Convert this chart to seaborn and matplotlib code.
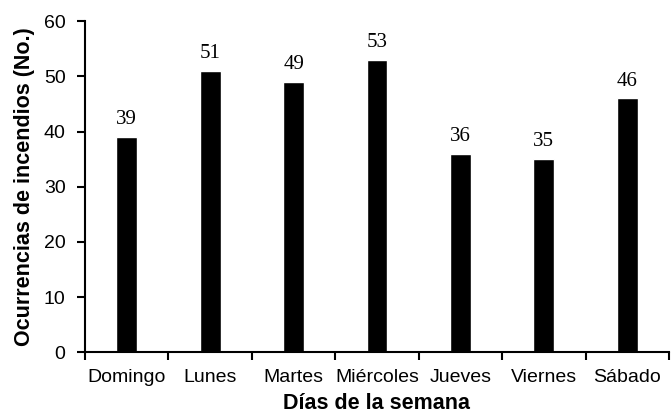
import numpy as np
import pandas as pd
import seaborn as sns
import matplotlib.pyplot as plt

dias = ['Domingo', 'Lunes', 'Martes', 'Miércoles', 'Jueves', 'Viernes', 'Sábado']
ocurrencias = [39, 51, 49, 53, 36, 35, 46]

df = pd.DataFrame({'dia': dias, 'n': ocurrencias})

sns.set_style('ticks')
plt.rcParams['font.family'] = ['Liberation Sans', 'DejaVu Sans']
plt.rcParams['text.color'] = 'black'
plt.rcParams['axes.labelcolor'] = 'black'
plt.rcParams['xtick.color'] = 'black'
plt.rcParams['ytick.color'] = 'black'

fig = plt.figure(figsize=(6.72, 4.15), dpi=100)
ax = fig.add_axes([0.1265, 0.151, 0.869, 0.798])

sns.barplot(data=df, x='dia', y='n', color='black', width=0.25,
            saturation=1, ax=ax)

# etiquetas de valor encima de cada barra
for i, v in enumerate(ocurrencias):
    ax.text(i, v + 1.4, str(v), ha='center', va='bottom',
            family='Liberation Serif', fontsize=15)

ax.set_ylim(0, 60)
ax.set_xlim(-0.5, 6.5)
ax.set_yticks(range(0, 61, 10))
ax.set_xticks(np.arange(-0.5, 7, 1))
ax.set_xticklabels([])
ax.set_xticks(range(7), minor=True)
ax.set_xticklabels(dias, minor=True)
ax.tick_params(axis='x', which='minor', length=0, labelsize=14, pad=12)
ax.tick_params(axis='x', which='major', length=6, width=1.5)
ax.tick_params(axis='y', length=6, width=1.5, labelsize=14, pad=8)

ax.set_xlabel('Días de la semana', fontsize=15.5, fontweight='bold', labelpad=5)
ax.set_ylabel('Ocurrencias de incendios (No.)', fontsize=15.5, fontweight='bold',
              labelpad=6)

sns.despine(ax=ax)
for s in ['left', 'bottom']:
    ax.spines[s].set_linewidth(1.5)
    ax.spines[s].set_color('black')

fig.savefig('out.png', dpi=100)
